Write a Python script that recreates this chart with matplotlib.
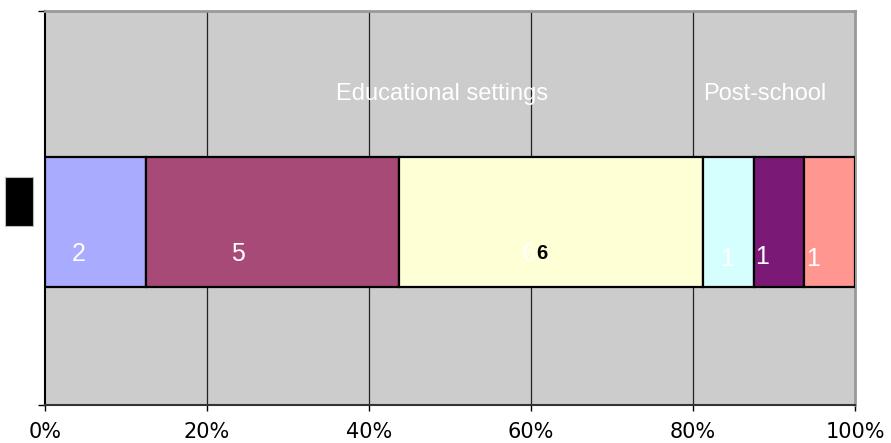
import numpy as np
import matplotlib
matplotlib.use("Agg")
import matplotlib.pyplot as plt
from matplotlib.patches import Rectangle

# values of the single stacked bar (shown as percentage of total)
values = [2, 5, 6, 1, 1, 1]
colors = ["#A9ABFF", "#A84A77", "#FFFFD5", "#D5FFFF", "#7A1976", "#FF9690"]
xticks = [0, 20, 40, 60, 80, 100]
xticklabels = ["0%", "20%", "40%", "60%", "80%", "100%"]
groups = ["Educational settings", "Post-school"]
group_x = [49, 88.9]

# label offsets in points from segment centre
label_dx = [-12, -25, -16, -1, -12, -12]
label_dy = [-23, -23, -23, -27, -25, -27]

fig = plt.figure(figsize=(8.91, 4.43), dpi=100)
ax = fig.add_axes([45 / 891, 38 / 443, 810 / 891, 394 / 443])
ax.set_facecolor("#CCCCCC")

total = float(sum(values))
pct = np.array(values) / total * 100
left = np.concatenate([[0], np.cumsum(pct)[:-1]])

for gx in xticks[1:-1]:
    ax.axvline(gx, color="#222222", lw=0.9, zorder=1)

bars = ax.barh(0.465, pct, left=left, height=0.33, color=colors,
               edgecolor="black", linewidth=1.6, zorder=3)

for i, (l, w, v) in enumerate(zip(left, pct, values)):
    ax.annotate(str(v), (l + w / 2, 0.465), xytext=(label_dx[i], label_dy[i]),
                textcoords="offset points", ha="center", va="center",
                color="white", fontsize=18, family="Liberation Sans", zorder=4)

# the bold black label on the largest segment
i6 = values.index(6)
ax.annotate(str(values[i6]), (left[i6] + pct[i6] / 2, 0.465), xytext=(-6.5, -22.5),
            textcoords="offset points", ha="center", va="center",
            color="black", fontsize=14.5, fontweight="bold",
            family="Liberation Sans", zorder=5)

for name, gx in zip(groups, group_x):
    ax.text(gx, 0.79, name, ha="center", va="center", color="white",
            fontsize=17, family="Liberation Sans", zorder=4)

ax.set_xlim(0, 100)
ax.set_ylim(0, 1)
ax.set_xticks(xticks)
ax.set_xticklabels(xticklabels, fontsize=15, family="DejaVu Sans")
ax.set_yticks([0, 1])
ax.set_yticklabels([])
ax.tick_params(axis="x", length=4, width=1, pad=8, colors="black")
ax.tick_params(axis="y", length=5, width=1)

ax.spines["left"].set_color("black")
ax.spines["left"].set_linewidth(1.5)
ax.spines["bottom"].set_color("#333333")
ax.spines["bottom"].set_linewidth(1.5)
ax.spines["top"].set_color("#999999")
ax.spines["top"].set_linewidth(2)
ax.spines["right"].set_color("#999999")
ax.spines["right"].set_linewidth(2)

# legend key box at the left
fig.patches.append(Rectangle((5 / 891, 217 / 443), 28 / 891, 49 / 443,
                             transform=fig.transFigure, facecolor="black",
                             edgecolor="#BBBBBB", linewidth=0.8))

fig.savefig("out.png", dpi=100)
